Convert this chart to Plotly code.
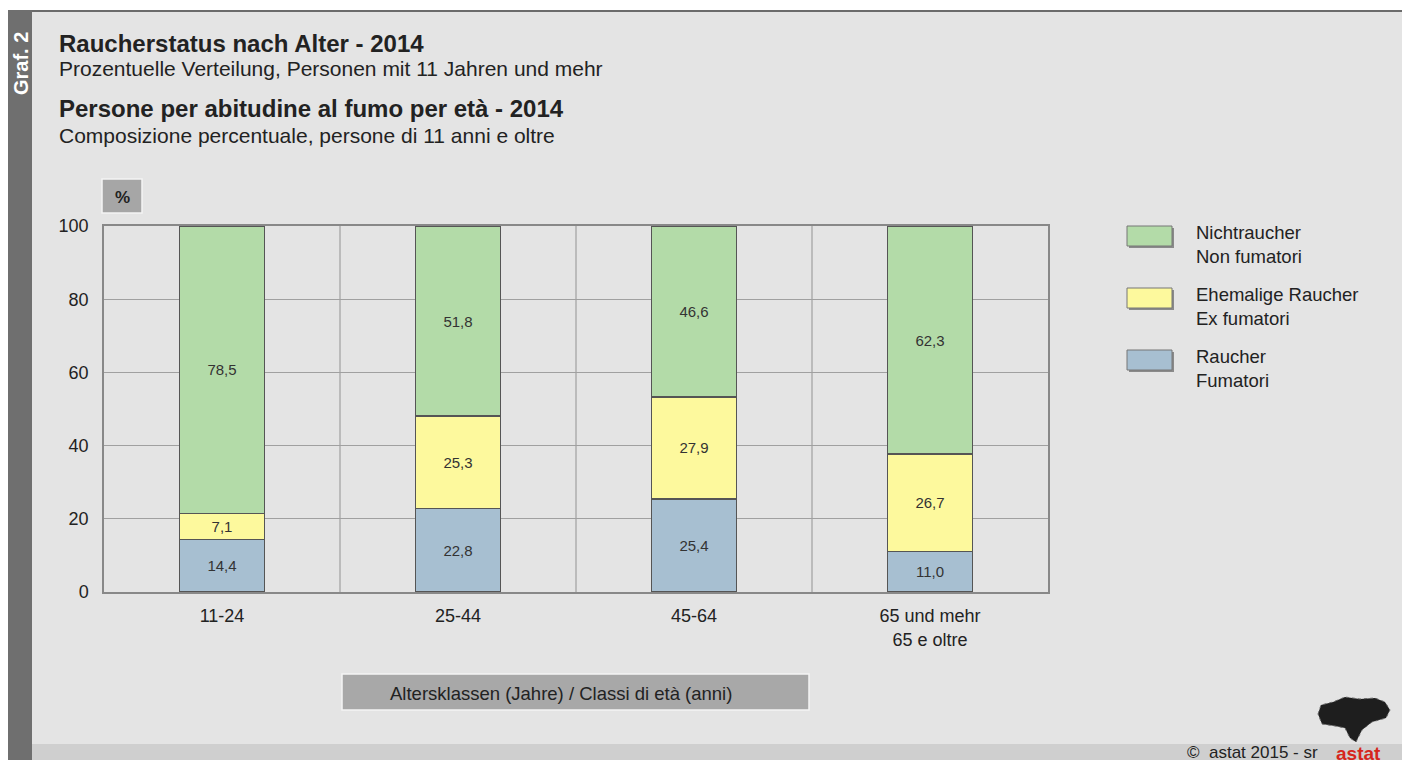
import plotly.graph_objects as go

# Data
categories = ["11-24", "25-44", "45-64", "65 und mehr<br>65 e oltre"]
raucher = [14.4, 22.8, 25.4, 11.0]
ehemalige = [7.1, 25.3, 27.9, 26.7]
nichtraucher = [78.5, 51.8, 46.6, 62.3]

series_names = ["Raucher<br>Fumatori", "Ehemalige Raucher<br>Ex fumatori", "Nichtraucher<br>Non fumatori"]
series_values = [raucher, ehemalige, nichtraucher]
colors = ["#a7bfd1", "#fdf99d", "#b3dba8"]

W, H = 1402, 760
L, R, T, B = 104, 1048, 226, 592
FONT = "Liberation Sans, Arial, sans-serif"


def px(x):
    return (x - L) / (R - L)


def py(y):
    return (B - y) / (B - T)


fig = go.Figure()

for name, vals, col in zip(series_names, series_values, colors):
    fig.add_trace(go.Bar(
        x=list(range(len(categories))), y=vals,
        name=name,
        width=0.36,
        marker=dict(color=col, line=dict(color="#555555", width=1.5)),
        texttemplate="%{y:.1f}",
        textposition="inside",
        insidetextanchor="middle",
        textangle=0,
        textfont=dict(size=15, color="#333333", family=FONT),
        hoverinfo="skip",
    ))

shapes = []
# backgrounds
shapes.append(dict(type="rect", xref="paper", yref="paper",
                   x0=px(0), x1=px(W + 20), y0=py(0), y1=py(H + 20),
                   fillcolor="#ffffff", line=dict(width=0), layer="below"))
shapes.append(dict(type="rect", xref="paper", yref="paper",
                   x0=px(8), x1=px(W + 20), y0=py(10), y1=py(H + 20),
                   fillcolor="#e4e4e4", line=dict(width=0), layer="below"))
shapes.append(dict(type="line", xref="paper", yref="paper",
                   x0=px(8), x1=px(W + 20), y0=py(11), y1=py(11),
                   line=dict(color="#6b6b6b", width=2), layer="below"))
shapes.append(dict(type="rect", xref="paper", yref="paper",
                   x0=px(8), x1=px(32), y0=py(10), y1=py(H + 20),
                   fillcolor="#6f6f6f", line=dict(width=0), layer="below"))
shapes.append(dict(type="rect", xref="paper", yref="paper",
                   x0=px(32), x1=px(W + 20), y0=py(744), y1=py(H + 20),
                   fillcolor="#cfcfcf", line=dict(width=0), layer="below"))

# vertical separators between categories
for i in range(len(categories) - 1):
    shapes.append(dict(type="line", xref="x", yref="paper",
                       x0=i + 0.5, x1=i + 0.5, y0=0, y1=1,
                       line=dict(color="#a0a0a0", width=1.2), layer="below"))

# % box
shapes.append(dict(type="rect", xref="paper", yref="paper",
                   x0=px(102), x1=px(142), y0=py(179), y1=py(213),
                   fillcolor="#a6a6a6", line=dict(color="#f4f4f4", width=1.5)))
# x title box
shapes.append(dict(type="rect", xref="paper", yref="paper",
                   x0=px(342), x1=px(809), y0=py(674), y1=py(710),
                   fillcolor="#a8a8a8", line=dict(color="#f4f4f4", width=1.5)))

# rough astat logo silhouette
logo = [(1318, 714), (1321, 705), (1333, 702), (1345, 697), (1360, 699), (1375, 698),
        (1385, 702), (1390, 710), (1386, 718), (1372, 722), (1362, 730), (1356, 742),
        (1350, 738), (1345, 728), (1335, 726), (1322, 724)]
path = "M " + " L ".join(f"{px(x):.5f},{py(y):.5f}" for x, y in logo) + " Z"
shapes.append(dict(type="path", xref="paper", yref="paper", path=path,
                   fillcolor="#1e1e1e", line=dict(color="#666666", width=1, dash="dot")))

annotations = [
    dict(text="<b>%</b>", x=px(122), y=py(197), font=dict(size=17)),
    dict(text="Altersklassen (Jahre) / Classi di età (anni)", x=px(561), y=py(693), font=dict(size=18.5)),
    dict(text="<b>Raucherstatus nach Alter - 2014</b>", x=px(57), y=py(43), xanchor="left", font=dict(size=24)),
    dict(text="Prozentuelle Verteilung, Personen mit 11 Jahren und mehr", x=px(57), y=py(68), xanchor="left", font=dict(size=21)),
    dict(text="<b>Persone per abitudine al fumo per età - 2014</b>", x=px(57), y=py(109), xanchor="left", font=dict(size=24)),
    dict(text="Composizione percentuale, persone di 11 anni e oltre", x=px(57), y=py(135), xanchor="left", font=dict(size=21)),
    dict(text="<b>Graf. 2</b>", x=px(21), y=py(64), textangle=-90, font=dict(size=20, color="#ffffff")),
    dict(text="©  astat 2015 - sr", x=px(1320), y=py(752), xanchor="right", font=dict(size=17)),
    dict(text="<b>astat</b>", x=px(1358), y=py(753), font=dict(size=19, color="#d6261c")),
]

# legend drawn by hand
legend_rows = [(226, 2), (288, 1), (350, 0)]
for top, idx in legend_rows:
    shapes.append(dict(type="rect", xref="paper", yref="paper",
                       x0=px(1129), x1=px(1174), y0=py(top + 2), y1=py(top + 22),
                       fillcolor="#8a8a8a", line=dict(width=0)))
    shapes.append(dict(type="rect", xref="paper", yref="paper",
                       x0=px(1127), x1=px(1172), y0=py(top), y1=py(top + 20),
                       fillcolor=colors[idx], line=dict(color="#777777", width=1)))
    annotations.append(dict(text=series_names[idx], x=px(1194), y=py(top + 18),
                            xanchor="left", align="left", font=dict(size=18.5)))

for a in annotations:
    a.setdefault("xref", "paper")
    a.setdefault("yref", "paper")
    a.setdefault("showarrow", False)
    a.setdefault("xanchor", "center")
    a.setdefault("yanchor", "middle")
    a.setdefault("font", dict(size=16))
    a["font"].setdefault("color", "#222222")
    a["font"].setdefault("family", FONT)

fig.update_layout(
    width=W, height=H,
    barmode="stack",
    showlegend=False,
    separators=",.",
    margin=dict(l=L, r=W - R, t=T, b=H - B),
    paper_bgcolor="#e4e4e4",
    plot_bgcolor="#ffffff",
    font=dict(family=FONT, size=18, color="#222222"),
    shapes=shapes,
    annotations=annotations,
    xaxis=dict(
        range=[-0.5, len(categories) - 0.5],
        tickvals=list(range(len(categories))),
        ticktext=categories,
        showgrid=False, zeroline=False,
        showline=True, mirror=True, linecolor="#888888", linewidth=1.5,
        ticks="", tickfont=dict(size=18), ticklabelstandoff=7,
        fixedrange=True,
    ),
    yaxis=dict(
        range=[0, 100], dtick=20,
        showgrid=True, gridcolor="#a0a0a0", gridwidth=1.2,
        zeroline=False,
        showline=True, mirror=True, linecolor="#888888", linewidth=1.5,
        ticks="", tickfont=dict(size=18), ticklabelstandoff=10,
        fixedrange=True,
    ),
)

# drop the default body margin so the figure fills the window
fig.write_html("out.html", config={"displayModeBar": False},
               post_script="document.body.style.margin='0';document.body.style.overflow='hidden';")
